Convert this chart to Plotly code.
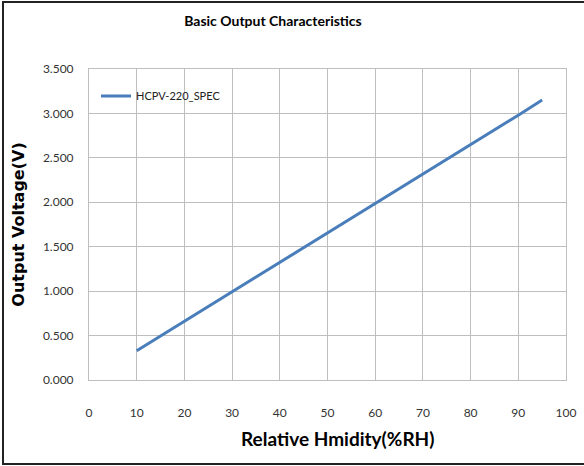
import plotly.graph_objects as go

humidity = [10, 20, 30, 40, 50, 60, 70, 80, 90, 95]
voltage = [0.33, 0.66, 0.99, 1.32, 1.65, 1.98, 2.32, 2.65, 2.98, 3.15]
series_name = "HCPV-220_SPEC"
x_ticks = [0, 10, 20, 30, 40, 50, 60, 70, 80, 90, 100]
y_ticks = [0, 0.5, 1.0, 1.5, 2.0, 2.5, 3.0, 3.5]

narrow = "Lato, sans-serif"

fig = go.Figure()
fig.add_trace(go.Scatter(
    x=humidity, y=voltage, mode="lines", name=series_name,
    line=dict(color="#4A7EBB", width=3),
))

W, H = 584, 466
L, R, T, B = 89, 18, 69, 86
pw, ph = W - L - R, H - T - B

def px(x):
    return (x - L) / pw

def py(y):
    return (H - B - y) / ph

fig.update_layout(
    width=W, height=H,
    margin=dict(l=L, r=R, t=T, b=B, autoexpand=False),
    paper_bgcolor="white", plot_bgcolor="white",
    title=dict(text="<b>Basic Output Characteristics</b>", x=273 / W, xanchor="center",
               y=1 - 21 / H, yanchor="middle",
               font=dict(family=narrow, size=14, color="black")),
    showlegend=True,
    legend=dict(x=px(96), y=py(96), xanchor="left", yanchor="middle",
                bgcolor="rgba(0,0,0,0)", font=dict(family=narrow, size=11, color="#222"),
                itemwidth=30),
    xaxis=dict(range=[0, 100], tickvals=x_ticks, showgrid=True, gridcolor="#BEBEBE",
               gridwidth=1, showline=True, linecolor="#BEBEBE", mirror=True, zeroline=False,
               ticks="", ticklabelstandoff=22,
               tickfont=dict(family=narrow, size=12, color="#333")),
    yaxis=dict(range=[0, 3.5], tickvals=y_ticks, tickformat=".3f", showgrid=True,
               gridcolor="#BEBEBE", gridwidth=1, showline=True, linecolor="#BEBEBE",
               mirror=True, zeroline=False, ticks="", ticklabelstandoff=12,
               tickfont=dict(family=narrow, size=12, color="#333"),
               title=dict(text="<b>Output Voltage(V)</b>", standoff=14,
                          font=dict(family="DejaVu Sans, sans-serif", size=16,
                                    color="black"))),
)

fig.add_annotation(text="<b>Relative Hmidity(%RH)</b>", xref="paper", yref="paper",
                   x=px(337), y=py(438), xanchor="center", yanchor="middle",
                   showarrow=False, font=dict(family=narrow, size=19, color="black"))

fig.add_shape(type="rect", xref="paper", yref="paper",
              x0=px(3), x1=px(600), y0=py(464), y1=py(2),
              line=dict(color="#222", width=2), layer="above")

fig.write_html("out.html", config={"displayModeBar": False},
               post_script="document.body.style.margin='0';document.body.style.overflow='hidden';")
